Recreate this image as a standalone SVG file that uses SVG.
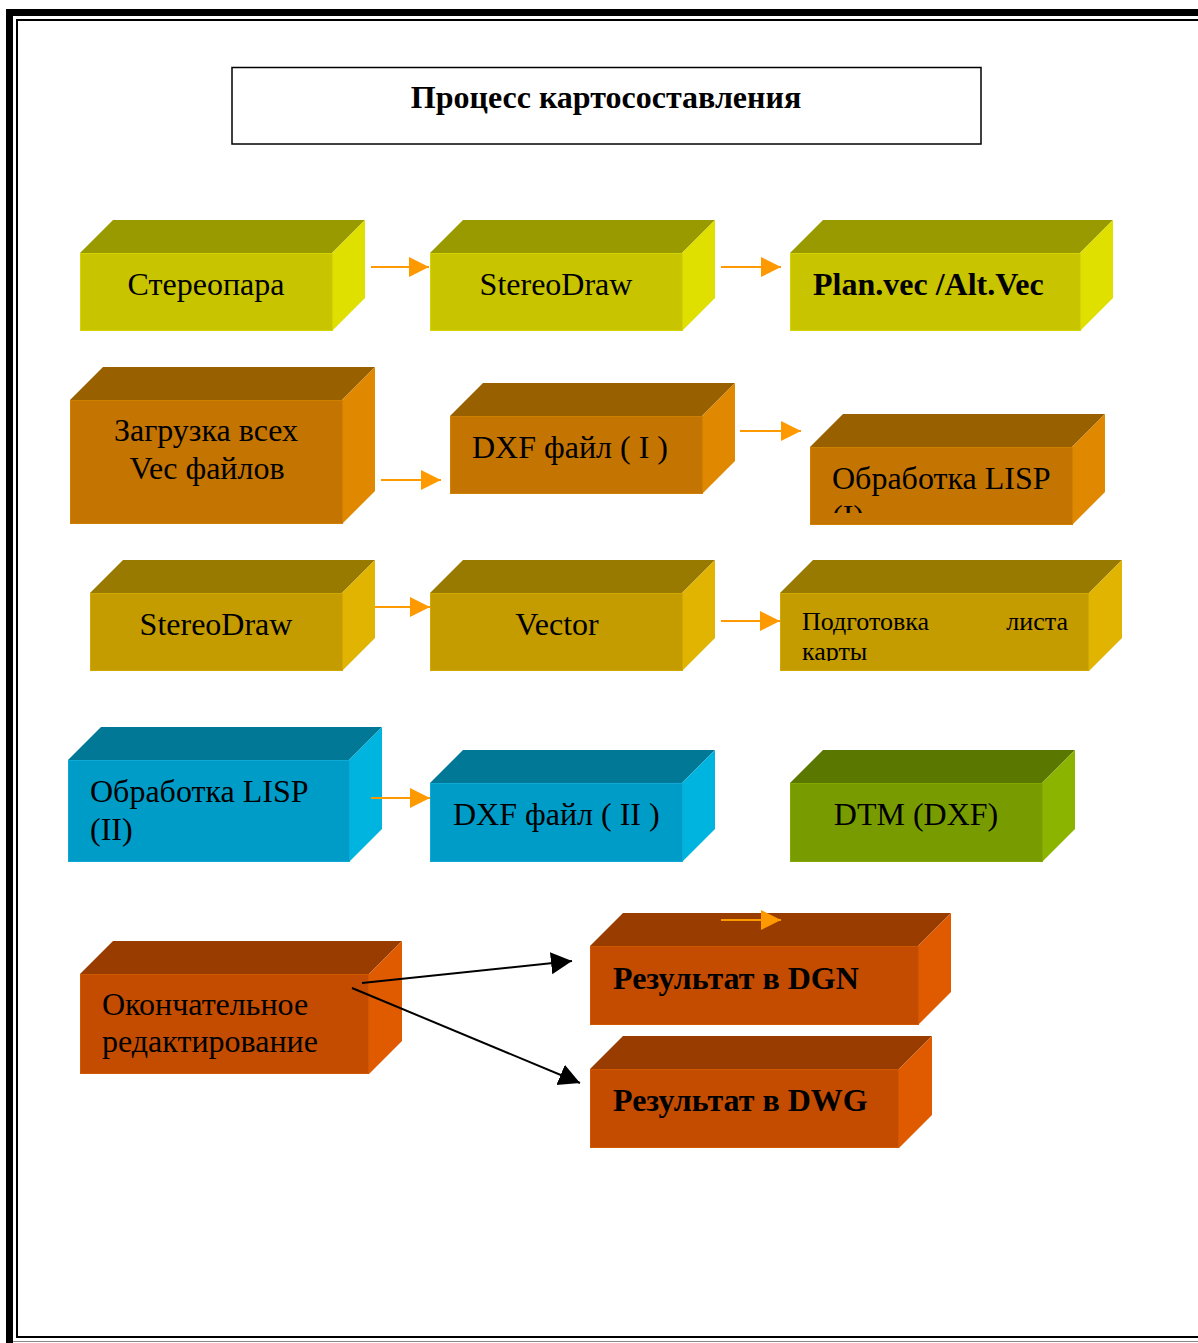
<svg xmlns="http://www.w3.org/2000/svg" width="1198" height="1343" viewBox="0 0 1198 1343">
<style>
text{font-family:"Liberation Serif","Times New Roman",serif;fill:#000}
.t{font-size:32px}
.b{font-size:32px;font-weight:bold}
.s{font-size:26px}
.y .f{fill:#C8C400;stroke:#D4D400}.y .tp{fill:#999900}.y .sd{fill:#E0E000}
.o .f{fill:#C47400;stroke:#D08000}.o .tp{fill:#996000}.o .sd{fill:#E08800}
.g .f{fill:#C49C00;stroke:#D0A800}.g .tp{fill:#997A00}.g .sd{fill:#E0B400}
.c .f{fill:#009CC8;stroke:#10A8D4}.c .tp{fill:#007896}.c .sd{fill:#00B4E0}
.v .f{fill:#789C00;stroke:#84A800}.v .tp{fill:#5A7800}.v .sd{fill:#8AB400}
.r .f{fill:#C44C00;stroke:#D05800}.r .tp{fill:#993C00}.r .sd{fill:#E05A00}
.f{stroke-width:1}
.oa{stroke:#FF9900;stroke-width:2;fill:none;marker-end:url(#oh)}
.ba{stroke:#000;stroke-width:2;fill:none;marker-end:url(#bh)}
</style>
<defs>
<marker id="oh" markerUnits="userSpaceOnUse" markerWidth="22" markerHeight="22" refX="20" refY="10" orient="auto"><path d="M0,0 L20,10 L0,20 Z" fill="#FF9900"/></marker>
<marker id="bh" markerUnits="userSpaceOnUse" markerWidth="24" markerHeight="24" refX="21" refY="11" orient="auto"><path d="M0,0 L21,11 L0,22 Z" fill="#000"/></marker>
<clipPath id="clip6"><rect x="810" y="447" width="262" height="66"/></clipPath>
<clipPath id="clip9"><rect x="780" y="593" width="308" height="68"/></clipPath>
</defs>
<rect width="1198" height="1343" fill="#fff"/>
<g id="frame" fill="none">
<path d="M9.5,1343 V12.5 H1198" stroke="#000" stroke-width="7"/>
<path d="M1198,20 H17 V1337 H1198" stroke="#000" stroke-width="2"/>
<line x1="13" y1="1341.5" x2="1198" y2="1341.5" stroke="#888" stroke-width="1"/>
</g>
<g id="title">
<rect x="232" y="67.5" width="749" height="76.5" fill="#fff" stroke="#000" stroke-width="1.5"/>
<text class="b" x="606" y="108" text-anchor="middle">Процесс картосоставления</text>
</g>
<g id="n1" class="y">
<polygon class="tp" points="80,253 113,220 365,220 332,253"/>
<polygon class="sd" points="332,253 365,220 365,298 332,331"/>
<rect class="f" x="80.5" y="253.5" width="252" height="77"/>
<text class="t" x="206" y="295" text-anchor="middle">Стереопара</text>
</g>
<g id="n2" class="y">
<polygon class="tp" points="430,253 463,220 715,220 682,253"/>
<polygon class="sd" points="682,253 715,220 715,298 682,331"/>
<rect class="f" x="430.5" y="253.5" width="252" height="77"/>
<text class="t" x="556" y="295" text-anchor="middle">StereoDraw</text>
</g>
<g id="n3" class="y">
<polygon class="tp" points="790,253 823,220 1113,220 1080,253"/>
<polygon class="sd" points="1080,253 1113,220 1113,298 1080,331"/>
<rect class="f" x="790.5" y="253.5" width="290" height="77"/>
<text class="b" x="813" y="295">Plan.vec /Alt.Vec</text>
</g>
<g id="n4" class="o">
<polygon class="tp" points="70,400 103,367 375,367 342,400"/>
<polygon class="sd" points="342,400 375,367 375,491 342,524"/>
<rect class="f" x="70.5" y="400.5" width="272" height="123"/>
<text class="t" x="206" y="441" text-anchor="middle">Загрузка всех</text>
<text class="t" x="207" y="479" text-anchor="middle">Vec файлов</text>
</g>
<g id="n5" class="o">
<polygon class="tp" points="450,416 483,383 735,383 702,416"/>
<polygon class="sd" points="702,416 735,383 735,461 702,494"/>
<rect class="f" x="450.5" y="416.5" width="252" height="77"/>
<text class="t" x="472" y="458">DXF файл ( I )</text>
</g>
<g id="n6" class="o">
<polygon class="tp" points="810,447 843,414 1105,414 1072,447"/>
<polygon class="sd" points="1072,447 1105,414 1105,492 1072,525"/>
<rect class="f" x="810.5" y="447.5" width="262" height="77"/>
<g clip-path="url(#clip6)">
<text class="t" x="832" y="489">Обработка LISP</text>
<text class="t" x="832" y="527">(I)</text>
</g>
</g>
<g id="n7" class="g">
<polygon class="tp" points="90,593 123,560 375,560 342,593"/>
<polygon class="sd" points="342,593 375,560 375,638 342,671"/>
<rect class="f" x="90.5" y="593.5" width="252" height="77"/>
<text class="t" x="216" y="635" text-anchor="middle">StereoDraw</text>
</g>
<g id="n8" class="g">
<polygon class="tp" points="430,593 463,560 715,560 682,593"/>
<polygon class="sd" points="682,593 715,560 715,638 682,671"/>
<rect class="f" x="430.5" y="593.5" width="252" height="77"/>
<text class="t" x="557" y="635" text-anchor="middle">Vector</text>
</g>
<g id="n9" class="g">
<polygon class="tp" points="780,593 813,560 1122,560 1089,593"/>
<polygon class="sd" points="1089,593 1122,560 1122,638 1089,671"/>
<rect class="f" x="780.5" y="593.5" width="308" height="77"/>
<g clip-path="url(#clip9)">
<text class="s" x="802" y="630">Подготовка</text>
<text class="s" x="1068" y="630" text-anchor="end">листа</text>
<text class="s" x="802" y="660">карты</text>
</g>
</g>
<g id="n10" class="c">
<polygon class="tp" points="68,760 101,727 382,727 349,760"/>
<polygon class="sd" points="349,760 382,727 382,829 349,862"/>
<rect class="f" x="68.5" y="760.5" width="281" height="101"/>
<text class="t" x="90" y="802">Обработка LISP</text>
<text class="t" x="90" y="840">(II)</text>
</g>
<g id="n11" class="c">
<polygon class="tp" points="430,783 463,750 715,750 682,783"/>
<polygon class="sd" points="682,783 715,750 715,829 682,862"/>
<rect class="f" x="430.5" y="783.5" width="252" height="78"/>
<text class="t" x="453" y="825">DXF файл ( II )</text>
</g>
<g id="n12" class="v">
<polygon class="tp" points="790,783 823,750 1075,750 1042,783"/>
<polygon class="sd" points="1042,783 1075,750 1075,829 1042,862"/>
<rect class="f" x="790.5" y="783.5" width="252" height="78"/>
<text class="t" x="916" y="825" text-anchor="middle">DTM (DXF)</text>
</g>
<g id="n13" class="r">
<polygon class="tp" points="80,974 113,941 402,941 369,974"/>
<polygon class="sd" points="369,974 402,941 402,1041 369,1074"/>
<rect class="f" x="80.5" y="974.5" width="288" height="99"/>
<text class="t" x="102" y="1015">Окончательное</text>
<text class="t" x="102" y="1052">редактирование</text>
</g>
<g id="n14" class="r">
<polygon class="tp" points="590,946 623,913 951,913 918,946"/>
<polygon class="sd" points="918,946 951,913 951,992 918,1025"/>
<rect class="f" x="590.5" y="946.5" width="328" height="78"/>
<text class="b" x="613" y="989">Результат в DGN</text>
</g>
<g id="n15" class="r">
<polygon class="tp" points="590,1069 623,1036 932,1036 899,1069"/>
<polygon class="sd" points="899,1069 932,1036 932,1115 899,1148"/>
<rect class="f" x="590.5" y="1069.5" width="308" height="78"/>
<text class="b" x="613" y="1111">Результат в DWG</text>
</g>
<g id="connectors">
<line class="oa" x1="371" y1="267" x2="429" y2="267"/>
<line class="oa" x1="721" y1="267" x2="781" y2="267"/>
<line class="oa" x1="381" y1="480" x2="441" y2="480"/>
<line class="oa" x1="740" y1="431" x2="801" y2="431"/>
<line class="oa" x1="375" y1="607" x2="430" y2="607"/>
<line class="oa" x1="721" y1="621" x2="780" y2="621"/>
<line class="oa" x1="371" y1="798" x2="430" y2="798"/>
<line class="oa" x1="721" y1="920" x2="781" y2="920"/>
<line class="ba" x1="362" y1="983" x2="572" y2="961"/>
<line class="ba" x1="352" y1="988" x2="580" y2="1083"/>
</g>
</svg>
